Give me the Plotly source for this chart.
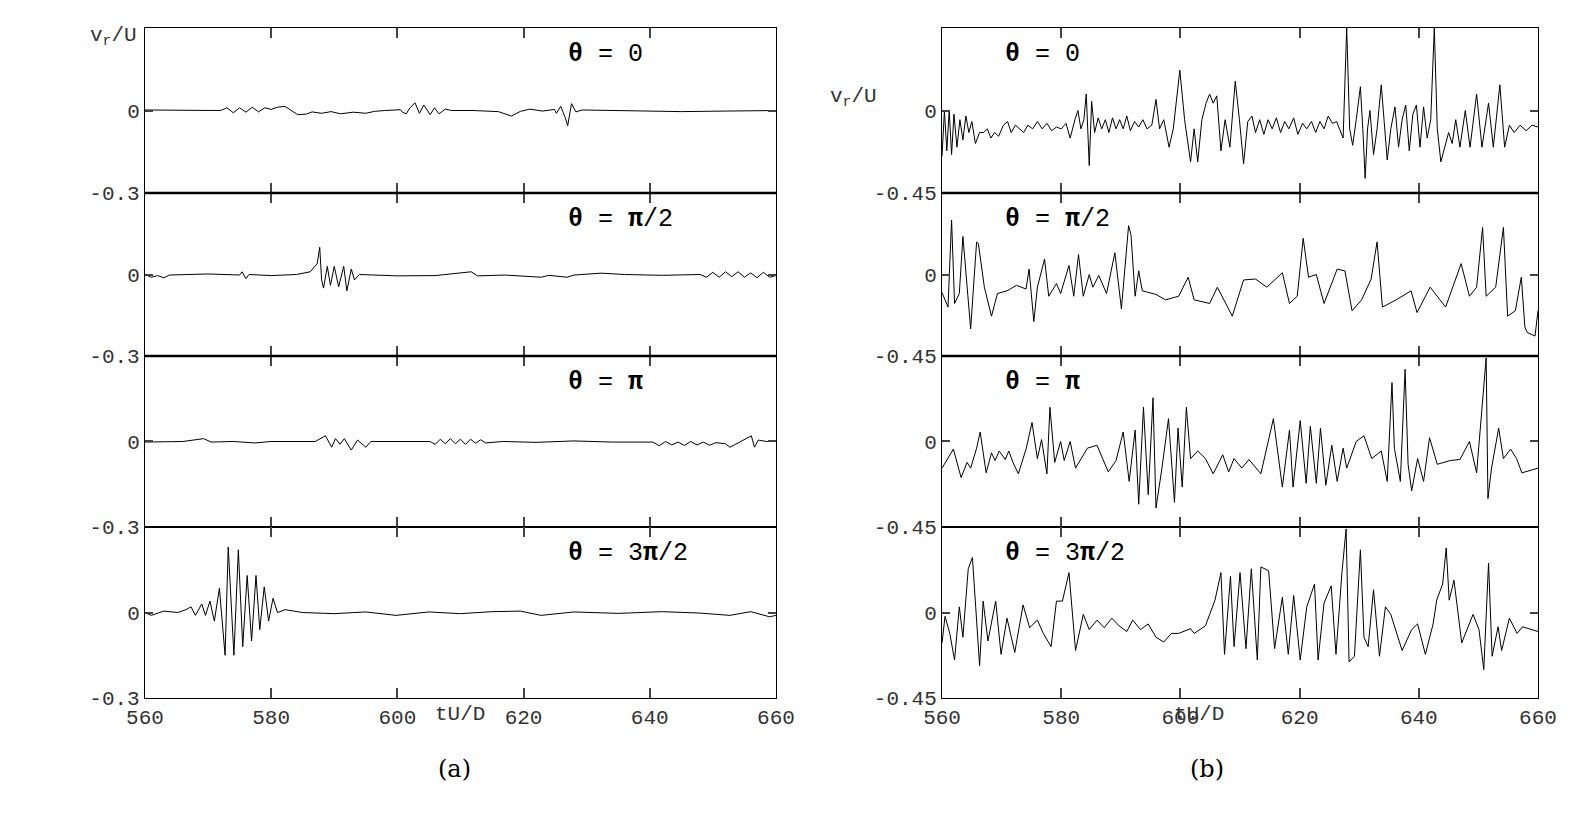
import plotly.graph_objects as go
from plotly.subplots import make_subplots

# (a) left column, range +-0.3
t_a0 = [560, 566, 572, 573, 574, 575, 576, 577, 578, 579, 580, 581, 582.2, 583, 584.2, 585.6, 586.5, 588, 589.5, 591, 593, 595, 596.4, 598, 600.5,
        600.8, 601.4, 602, 602.8, 603.5, 604.2, 605.2, 605.9, 606.6, 607.6, 608.6, 612, 616, 618.1, 619.5, 621, 623, 624.9, 625.2, 625.9, 626.6,
        627, 627.6, 628.3, 629.3, 635, 645, 652, 660]
v_a0 = [0.002, 0.0, 0.0, 0.01, -0.008, 0.01, -0.006, 0.012, -0.005, 0.01, 0.004, 0.012, 0.015, 0.003, -0.015, -0.013, -0.005, -0.01, -0.004, -0.012, -0.006, -0.01, -0.003, 0.0, 0.003,
        -0.006, -0.012, 0.01, 0.028, -0.01, 0.02, -0.015, 0.01, -0.012, 0.005, 0.0, 0.0, -0.004, -0.02, -0.003, 0.005, -0.002, 0.004, -0.01, 0.015, -0.025,
        -0.055, 0.025, -0.005, 0.002, 0.0, -0.004, -0.002, 0.0]
t_a1 = [560, 561, 562, 563, 563.9, 566, 570, 575, 575.4, 576, 576.5, 580, 584, 586.2, 587.3, 587.7, 588, 588.3, 588.9, 589.4, 590, 590.7, 591.5, 592, 592.7, 593.2,
        594, 600, 606, 611.7, 612.7, 617, 622.8, 624, 626.9, 628, 632.3, 636, 642, 648, 649, 650, 651, 652, 653, 654, 655, 656, 657, 658, 659, 660]
v_a1 = [0.0, -0.01, -0.004, -0.012, -0.002, 0.0, 0.002, -0.002, 0.01, -0.015, 0.0, -0.004, 0.0, 0.01, 0.04, 0.1, -0.02, -0.05, 0.03, -0.04, 0.03, -0.045, 0.03, -0.06, 0.02, -0.02,
        0.0, -0.005, -0.004, 0.01, -0.005, -0.002, -0.01, -0.003, -0.01, -0.002, 0.005, 0.0, -0.003, 0.0, -0.01, 0.008, -0.01, 0.01, -0.008, 0.01, -0.01, 0.006, -0.012, 0.008, -0.01, -0.004]
t_a2 = [560, 566, 569.3, 570.5, 574, 577.4, 580, 587, 588.6, 589.6, 590.2, 590.9, 591.6, 592.7, 593.7, 595, 595.8, 600, 605.2, 606, 606.8, 607.6, 608.4, 609.2, 610, 610.8,
        611.6, 612.4, 613.2, 614, 616.7, 622, 628, 634, 640.5, 641.5, 642.5, 643.5, 644.5, 645.5, 646.5, 647.5, 648.5, 649.5, 650.5, 652, 652.7, 654, 655.3, 656.1, 656.6, 657.2, 658.5, 660]
v_a2 = [-0.002, 0.0, 0.01, -0.002, 0.0, -0.005, 0.0, 0.0, 0.02, -0.02, 0.01, -0.01, 0.01, -0.03, 0.005, -0.02, 0.0, 0.0, 0.0, -0.01, 0.008, -0.008, 0.01, -0.008, 0.008, -0.01,
        0.008, -0.006, 0.006, -0.005, 0.0, -0.003, 0.002, -0.002, -0.002, -0.015, 0.0, -0.012, -0.002, -0.014, 0.0, -0.012, -0.002, -0.013, -0.004, -0.008, -0.02, -0.005, 0.01, 0.02, -0.02, 0.005, 0.0, 0.0]
t_a3 = [560, 561, 563, 565.2, 566.5, 567.3, 568, 569, 569.6, 570.3, 571, 571.8, 572.7, 573.2, 574.1, 574.8, 575.5, 576.2, 576.9, 577.6, 578.2, 578.9, 579.6, 580.3, 581,
        582.2, 585, 590, 595, 599.8, 605, 610, 615, 619.5, 622.8, 628, 635, 642, 648, 652.7, 656, 659, 660]
v_a3 = [0.0, -0.01, 0.005, 0.0, 0.01, 0.02, -0.01, 0.03, -0.01, 0.04, -0.03, 0.085, -0.15, 0.23, -0.15, 0.22, -0.12, 0.13, -0.1, 0.13, -0.06, 0.09, -0.03, 0.05, 0.0,
        0.01, 0.0, -0.004, 0.002, -0.01, 0.002, -0.004, 0.003, 0.005, -0.01, 0.002, -0.003, 0.003, -0.002, -0.01, 0.003, -0.015, -0.01]

# (b) right column, range +-0.45
t_b0 = [560, 560.4, 560.8, 561.2, 561.6, 562, 562.5, 563, 563.5, 564, 564.5, 565, 565.6, 566.3, 567, 567.6, 568.2, 568.8, 569.5, 570.3, 571, 571.6, 572.3, 573, 573.7,
        574.4, 575.2, 576, 576.8, 577.6, 578.4, 579.2, 580, 580.8, 581.5, 582.3, 582.8, 583.3, 583.8, 584.2, 584.7, 585.1, 585.6, 586.2, 586.8, 587.4, 588, 588.6, 589.2,
        589.8, 590.4, 591, 591.6, 592.3, 593, 593.7, 594.4, 595.2, 595.9, 596.5, 597.2, 598.1, 598.8, 599.9, 600.7, 601.7, 602.3, 602.9, 603.6, 604.3, 604.9, 605.5, 606.1,
        606.8, 607.5, 608.3, 609.2, 609.9, 610.6, 611.3, 612, 612.6, 613.3, 614, 614.7, 615.4, 616.1, 616.8, 617.5, 618.2, 619, 619.7, 620.5, 621.2, 622, 622.7, 623.4,
        624.1, 624.8, 625.5, 626.2, 627.3, 627.9, 628.4, 628.9, 629.5, 630.2, 630.6, 631, 631.4, 631.8, 632.4, 633, 633.7, 634.7, 635.3, 636, 636.6, 637.2, 637.8, 638.4,
        639, 639.6, 640.2, 640.8, 641.4, 642, 642.6, 643.1, 643.7, 644.4, 645, 645.6, 646.2, 646.9, 647.8, 648.6, 649.7, 650.6, 651.7, 652.5, 653.6, 654.4, 655.2, 656,
        657, 658, 659, 660]
v_b0 = [-0.25, 0.0, -0.22, 0.0, -0.24, -0.02, -0.2, -0.05, -0.16, -0.03, -0.12, -0.06, -0.18, -0.12, -0.12, -0.1, -0.15, -0.12, -0.14, -0.08, -0.06, -0.12, -0.08, -0.1, -0.12,
        -0.08, -0.1, -0.06, -0.1, -0.07, -0.11, -0.09, -0.1, -0.07, -0.15, -0.05, 0.0, -0.1, -0.05, 0.09, -0.3, 0.05, -0.12, -0.04, -0.1, -0.05, -0.12, -0.04, -0.1,
        -0.05, -0.1, -0.03, -0.11, -0.06, -0.09, -0.05, -0.1, -0.08, 0.06, -0.1, -0.05, -0.2, -0.1, 0.22, -0.05, -0.28, -0.1, -0.28, -0.05, 0.04, 0.09, 0.04, 0.08,
        -0.22, -0.05, -0.2, 0.16, -0.05, -0.29, -0.06, -0.03, -0.12, -0.05, -0.13, -0.05, -0.1, -0.04, -0.12, -0.06, -0.1, -0.04, -0.13, -0.07, -0.1, -0.06, -0.12, -0.06,
        -0.1, -0.03, -0.07, -0.06, -0.15, 0.45, -0.1, -0.19, -0.05, 0.13, -0.1, -0.37, -0.1, 0.0, -0.24, -0.1, 0.14, -0.27, -0.1, 0.02, -0.2, -0.05, 0.03, -0.22,
        -0.02, 0.03, -0.2, 0.02, -0.15, -0.05, 0.45, -0.1, -0.28, -0.2, -0.12, -0.18, -0.05, -0.2, 0.0, -0.2, 0.09, -0.2, 0.04, -0.2, 0.14, -0.2, -0.08, -0.12,
        -0.08, -0.11, -0.08, -0.09]
t_b1 = [560, 561, 561.6, 562.1, 562.9, 563.5, 564.8, 565.8, 566.1, 567.1, 568.3, 569.3, 570.9, 572.5, 574.1, 574.6, 575.4, 576, 577.2, 577.9, 579.2, 579.9, 581.3, 582.1, 582.9,
        583.7, 584.7, 585.3, 586.3, 587.6, 589, 590.1, 591.3, 591.7, 592.4, 593, 593.6, 595.9, 597.5, 599.7, 601.3, 602.3, 604.9, 606.2, 608.7, 610.6, 612.6, 614.5, 617.1,
        618.3, 619.6, 620.6, 621.5, 622.8, 624.1, 626.3, 627.6, 628.8, 630.4, 632, 633, 633.9, 636.2, 638.7, 639.7, 641.9, 644.5, 647.1, 648.5, 649.7, 650.7, 651.3, 652.9,
        654.2, 654.9, 656.2, 657.2, 657.8, 658.2, 659.5, 660]
v_b1 = [-0.1, -0.18, 0.3, -0.16, -0.105, 0.21, -0.3, 0.18, 0.17, -0.07, -0.23, -0.105, -0.09, -0.06, -0.08, 0.03, -0.26, -0.07, 0.085, -0.12, -0.05, -0.105, 0.05, -0.12, 0.11,
        -0.12, 0.0, -0.07, -0.005, -0.105, 0.12, -0.19, 0.27, 0.22, -0.12, 0.02, -0.09, -0.11, -0.14, -0.12, -0.015, -0.14, -0.16, -0.07, -0.23, -0.03, -0.025, -0.07, 0.01,
        -0.16, -0.12, 0.2, -0.015, 0.0, -0.16, 0.03, 0.02, -0.2, -0.14, -0.025, 0.18, -0.18, -0.14, -0.09, -0.21, -0.07, -0.18, 0.06, -0.12, -0.07, 0.26, -0.12, -0.07,
        0.26, -0.23, -0.2, -0.015, -0.29, -0.32, -0.34, -0.2]
t_b2 = [560, 561.9, 563.2, 564.2, 564.8, 565.8, 566.4, 567.4, 568.3, 568.9, 569.6, 570.6, 571.2, 571.9, 572.8, 574.1, 575.1, 576, 576.7, 577.6, 578.1, 578.9, 579.9, 580.5,
        581.5, 582.4, 584.4, 586, 587.9, 589.2, 590.4, 591.4, 592.4, 593, 593.8, 594.6, 595.4, 595.9, 596.9, 598, 599, 599.6, 600.3, 601, 601.7, 602.9, 604.2, 605.5, 607.1,
        608.1, 609, 610.3, 611.5, 613.5, 615.6, 617.1, 618.3, 618.9, 620.1, 621.1, 621.8, 622.8, 623.5, 624.4, 625.4, 626.3, 627.3, 627.9, 629.5, 630.8, 632.1, 633.7, 634.7,
        635.5, 635.9, 636.9, 637.7, 638.2, 638.8, 639.8, 640.8, 641.8, 643.1, 645.3, 646.9, 648.5, 649.7, 651.3, 651.6, 652.2, 653.4, 654.2, 655.4, 656.4, 657.3, 660]
v_b2 = [-0.14, -0.04, -0.19, -0.11, -0.14, -0.035, 0.05, -0.165, -0.06, -0.1, -0.05, -0.095, -0.05, -0.11, -0.17, -0.04, 0.1, -0.09, 0.01, -0.17, 0.18, -0.11, 0.0, -0.1,
        0.0, -0.14, -0.035, -0.02, -0.16, -0.1, 0.05, -0.21, 0.06, -0.33, 0.18, -0.28, 0.23, -0.35, -0.14, 0.12, -0.32, 0.07, -0.24, 0.18, -0.09, -0.05, -0.09, -0.17, -0.07,
        -0.16, -0.09, -0.14, -0.095, -0.17, 0.12, -0.24, 0.06, -0.24, 0.11, -0.22, 0.08, -0.22, 0.07, -0.23, -0.02, -0.21, -0.035, -0.14, 0.0, 0.03, -0.09, -0.05, -0.21,
        0.31, -0.035, -0.21, 0.38, -0.12, -0.26, -0.09, -0.21, 0.02, -0.12, -0.1, -0.095, 0.0, -0.165, 0.44, -0.3, -0.14, 0.07, -0.09, -0.04, -0.09, -0.165, -0.14]
t_b3 = [560, 560.5, 561.3, 562.1, 562.9, 563.5, 564.4, 565.1, 566.3, 566.9, 567.7, 569, 569.9, 570.9, 572.2, 573.6, 574.7, 576, 577, 578.3, 579.2, 580.2, 581.3, 582.4,
        583.7, 584.7, 586, 587.2, 588.5, 589.7, 591, 592, 593.3, 594.6, 595.9, 597.2, 598.5, 599.7, 601.7, 602.3, 604.2, 605.8, 606.8, 607.4, 608.4, 609, 610, 611, 611.9,
        612.9, 613.5, 614.8, 615.8, 617.1, 618.1, 619, 620.1, 621.2, 622.5, 623.1, 624.1, 625.3, 626.1, 627.1, 627.8, 628.3, 629.2, 630.2, 630.8, 631.5, 632.4, 633.4, 634.4,
        635.3, 637.2, 638.8, 639.8, 641.1, 642.4, 643, 644, 644.6, 645.1, 645.9, 647.2, 649.1, 650.1, 650.9, 651.7, 652.3, 653.3, 653.9, 655.2, 656.5, 657.4, 660]
v_b3 = [-0.16, -0.02, -0.11, -0.25, 0.03, -0.13, 0.23, 0.29, -0.28, 0.06, -0.15, 0.06, -0.22, -0.03, -0.21, 0.04, -0.08, -0.04, -0.11, -0.18, 0.06, 0.06, 0.21, -0.2,
        -0.01, -0.09, -0.04, -0.08, -0.03, -0.07, -0.1, -0.04, -0.09, -0.06, -0.13, -0.155, -0.11, -0.11, -0.085, -0.11, -0.07, 0.065, 0.21, -0.22, 0.19, -0.18, 0.21, -0.19, 0.23,
        -0.25, 0.24, 0.22, -0.19, 0.08, -0.22, 0.09, -0.25, 0.03, 0.15, -0.25, 0.05, 0.14, -0.22, 0.21, 0.44, -0.26, -0.23, 0.33, -0.13, -0.18, 0.12, -0.23, 0.03,
        -0.01, -0.2, -0.09, -0.06, -0.22, -0.06, 0.065, 0.15, 0.34, 0.065, 0.17, -0.16, -0.01, -0.09, -0.3, 0.26, -0.23, -0.075, -0.2, -0.03, -0.11, -0.075, -0.1]

labels = ["<b>θ</b> = 0", "<b>θ</b> = <b>π</b>/2", "<b>θ</b> = <b>π</b>", "<b>θ</b> = 3<b>π</b>/2"]
x_ticks = [560, 580, 600, 620, 640, 660]

mono = "Liberation Mono"
tick_font = dict(family=mono, size=21, color="#333")

fig = make_subplots(rows=4, cols=2, vertical_spacing=0, horizontal_spacing=0.1)
series_a = [(t_a0, v_a0), (t_a1, v_a1), (t_a2, v_a2), (t_a3, v_a3)]
series_b = [(t_b0, v_b0), (t_b1, v_b1), (t_b2, v_b2), (t_b3, v_b3)]
for i in range(4):
    fig.add_trace(go.Scatter(x=series_a[i][0], y=series_a[i][1], mode="lines",
                             line=dict(color="black", width=1), showlegend=False), row=i + 1, col=1)
    fig.add_trace(go.Scatter(x=series_b[i][0], y=series_b[i][1], mode="lines",
                             line=dict(color="black", width=1), showlegend=False), row=i + 1, col=2)

# panel edges in paper coords (top to bottom)
y_edges = [0.9754, 0.7727, 0.5725, 0.3624, 0.1523]
x_dom = {1: [0.0864, 0.4845], 2: [0.5893, 0.9653]}
for i in range(4):
    for c in (1, 2):
        last = i == 3
        fig.update_xaxes(domain=x_dom[c], range=[560, 660], tickvals=x_ticks, automargin=False,
                         ticks="inside", ticklen=10, tickwidth=2, mirror="ticks",
                         showline=True, linecolor="black", linewidth=1, showgrid=False, zeroline=False,
                         showticklabels=last, tickfont=tick_font, row=i + 1, col=c)
        lim = 0.3 if c == 1 else 0.45
        fig.update_yaxes(domain=[y_edges[i + 1], y_edges[i]], range=[-lim, lim], automargin=False,
                         tickvals=[-lim, 0], ticktext=["-0.%s" % str(lim)[2:], "0"],
                         ticks="inside", ticklen=8, tickwidth=1.5, mirror="ticks",
                         showline=True, linecolor="black", linewidth=1, showgrid=False, zeroline=False,
                         tickfont=tick_font, row=i + 1, col=c)

# the two upper panel separators are drawn heavier in the original
for c in (1, 2):
    for y in y_edges[1:3]:
        fig.add_shape(type="line", xref="paper", yref="paper", x0=x_dom[c][0], x1=x_dom[c][1],
                      y0=y, y1=y, line=dict(color="black", width=2.5))

ann = []
for i in range(4):
    yc = y_edges[i] - 0.032
    ann.append(dict(x=558 / 1585, y=yc, text=labels[i]))
    ann.append(dict(x=995 / 1585, y=yc, text=labels[i]))
ann = [dict(a, xref="paper", yref="paper", xanchor="left", yanchor="middle", showarrow=False,
            font=dict(family=mono, size=25, color="black")) for a in ann]
for x, y in [(80, 14), (845, 75)]:
    ann.append(dict(x=x / 1585, y=1 - y / 814, xref="paper", yref="paper", showarrow=False,
                    text="v<sub>r</sub>/U", font=tick_font))
for x in (425, 1218):
    ann.append(dict(x=x / 1585, y=1 - 720 / 814, xref="paper", yref="paper", showarrow=False,
                    text="tU/D", font=tick_font))
for x, s in [(428, "(a)"), (1218, "(b)")]:
    ann.append(dict(x=x / 1585, y=1 - 777 / 814, xref="paper", yref="paper", showarrow=False,
                    text=s, font=dict(family="DejaVu Serif", size=24, color="black")))

fig.update_layout(width=1585, height=814, margin=dict(l=0, r=0, t=0, b=0),
                  plot_bgcolor="white", paper_bgcolor="white", annotations=ann)
fig.write_html("out.html")
